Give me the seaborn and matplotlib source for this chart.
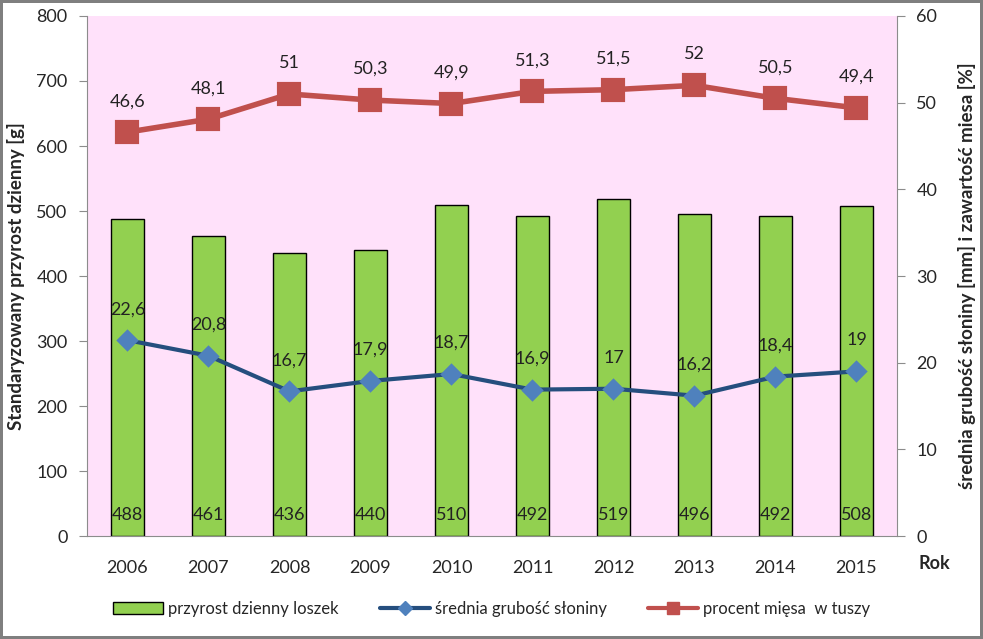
import numpy as np
import pandas as pd
import matplotlib
matplotlib.use('Agg')
import matplotlib.pyplot as plt
import seaborn as sns
from matplotlib.lines import Line2D
from matplotlib.patches import Patch
import matplotlib.transforms as mtransforms

years = ['2006', '2007', '2008', '2009', '2010', '2011', '2012', '2013', '2014', '2015']
przyrost = [488, 461, 436, 440, 510, 492, 519, 496, 492, 508]
slonina = [22.6, 20.8, 16.7, 17.9, 18.7, 16.9, 17.0, 16.2, 18.4, 19.0]
mieso = [46.6, 48.1, 51.0, 50.3, 49.9, 51.3, 51.5, 52.0, 50.5, 49.4]

df = pd.DataFrame({'Rok': years, 'przyrost': przyrost, 'slonina': slonina, 'mieso': mieso})

def fmt(v):
    return ('%g' % v).replace('.', ',')

sns.set_style('white')
plt.rcParams['font.family'] = ['Lato', 'DejaVu Sans']

fig = plt.figure(figsize=(9.83, 6.39), dpi=100)
fig.patch.set_facecolor('white')
fig.patch.set_edgecolor('#7f7f7f')
fig.patch.set_linewidth(3)
ax = fig.add_axes([0.0885, 0.161, 0.824, 0.814])
ax.set_facecolor('#FFE1FA')

sns.barplot(data=df, x='Rok', y='przyrost', color='#92D050', width=0.41,
            edgecolor='black', linewidth=1, saturation=1, ax=ax, zorder=2)
ax.set_ylim(0, 800)
ax.set_yticks(range(0, 801, 100))
ax.set_xlim(-0.5, 9.5)
for i, v in enumerate(przyrost):
    ax.text(i, 20, str(v), ha='center', va='bottom', fontsize=13, color='#222222', zorder=5)

ax2 = ax.twinx()
sns.pointplot(data=df, x='Rok', y='mieso', color='#C0504D', markers='s',
              linewidth=4, markersize=14, ax=ax2)
sns.pointplot(data=df, x='Rok', y='slonina', color='#254E7E', markers='D',
              linewidth=3, markersize=9, ax=ax2)
for ln in ax2.lines:
    if ln.get_marker() == 'D':
        ln.set_markerfacecolor('#4F81BD')
        ln.set_markeredgecolor('#4F81BD')
ax2.set_ylim(0, 60)
ax2.set_yticks(range(0, 61, 10))
ax2.set_xlim(-0.5, 9.5)

up = mtransforms.offset_copy(ax2.transData, fig=fig, x=0, y=31, units='dots')
for i, v in enumerate(mieso):
    ax2.text(i, v, fmt(v), transform=up, ha='center', va='center',
             fontsize=13, color='#222222')
for i, v in enumerate(slonina):
    ax2.text(i, v, fmt(v), transform=up, ha='center', va='center',
             fontsize=13, color='#222222')

# axes styling
for a in (ax, ax2):
    for s in a.spines.values():
        s.set_color('#8c8c8c')
    a.spines['top'].set_visible(False)
ax.spines['right'].set_visible(False)
ax2.spines['left'].set_visible(False)
ax2.spines['bottom'].set_visible(False)
ax.tick_params(axis='y', direction='out', length=6, color='#8c8c8c', labelsize=13, pad=8, left=True)
ax2.tick_params(axis='y', direction='out', length=6, color='#8c8c8c', labelsize=13, pad=8, right=True)
ax.set_xticks(np.arange(-0.5, 10, 1), minor=False)
ax.set_xticklabels([])
ax.set_xticks(np.arange(10), minor=True)
ax.set_xticklabels(years, minor=True)
ax.tick_params(axis='x', which='major', direction='out', length=6, color='#8c8c8c', bottom=True)
ax.tick_params(axis='x', which='minor', length=0, labelsize=13, pad=17)
ax2.set_xticks([])

ax.set_xlabel('')
ax.set_ylabel('Standaryzowany przyrost dzienny [g]', fontsize=13.5, fontweight='bold', labelpad=8)
ax2.set_ylabel('średnia grubość słoniny [mm] i zawartość miesa [%]', fontsize=13.5,
               fontweight='bold', labelpad=15)
fig.text(0.951, 0.118, 'Rok', fontsize=13, fontweight='bold', ha='center', va='center')

handles = [
    Patch(facecolor='#92D050', edgecolor='black', label='przyrost dzienny loszek'),
    Line2D([], [], color='#254E7E', lw=3, marker='D', markersize=7,
           markerfacecolor='#4F81BD', markeredgecolor='#4F81BD', label='średnia grubość słoniny'),
    Line2D([], [], color='#C0504D', lw=3, marker='s', markersize=8, label='procent mięsa  w tuszy'),
]
fig.legend(handles=handles, loc='center', bbox_to_anchor=(0.5, 0.047), ncol=3, frameon=False,
           fontsize=12, handlelength=3, columnspacing=2.5, handletextpad=0.3)

fig.savefig('out.png', dpi=100, facecolor=fig.get_facecolor(), edgecolor=fig.patch.get_edgecolor())
